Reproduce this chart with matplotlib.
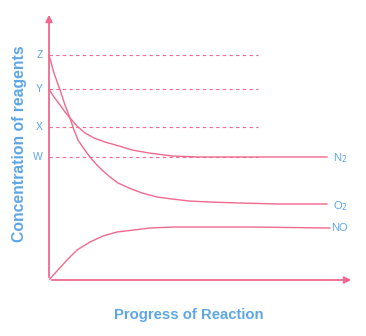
import matplotlib.pyplot as plt

plt.rcParams['font.family'] = ['Liberation Sans', 'DejaVu Sans']

pink = '#f0698f'
blue = '#5ea6e6'

# levels on the concentration axis
level_names = ['Z', 'Y', 'X', 'W']
level_values = [225, 191, 153, 123]

# curves (progress, concentration)
n2_x = [0, 5, 11, 16, 21, 28, 36, 45, 56, 70, 83, 100, 123, 150, 180, 230, 278]
n2_y = [191, 183, 175, 168, 162, 154, 147, 142, 138, 134, 130, 127, 124, 123, 123, 123, 123]
o2_x = [0, 5, 11, 16, 21, 25, 29, 35, 41, 47, 53, 61, 69, 80, 93, 108, 123, 140, 160, 190, 230, 278]
o2_y = [225, 207, 190, 175, 162, 150, 140, 131, 123, 116, 110, 103, 97, 92, 87, 83, 81, 79, 78, 77, 76, 76]
no_x = [0, 8, 18, 28, 41, 54, 68, 85, 101, 125, 151, 200, 281]
no_y = [0, 9, 20, 30, 38, 44, 48, 50, 52, 53, 53, 53, 52]

fig = plt.figure(figsize=(3.66, 3.36), dpi=100)
ax = fig.add_axes([49 / 366, 56 / 336, 305 / 366, 268 / 336])
ax.set_xlim(0, 305)
ax.set_ylim(0, 268)
ax.axis('off')

# axes with arrows
ax.annotate('', xy=(305, 0), xytext=(0, 0),
            arrowprops=dict(arrowstyle='-|>', color=pink, lw=1.3, mutation_scale=10))
ax.annotate('', xy=(0, 268), xytext=(0, 0),
            arrowprops=dict(arrowstyle='-|>', color=pink, lw=1.3, mutation_scale=10))

for name, v in zip(level_names, level_values):
    ax.plot([0, 209], [v, v], ls=(0, (3, 3)), color=pink, lw=0.8)
    ax.text(-6, v, name, color=blue, fontsize=7.5, ha='right', va='center')

ax.plot(n2_x, n2_y, color=pink, lw=1)
ax.plot(o2_x, o2_y, color=pink, lw=1)
ax.plot(no_x, no_y, color=pink, lw=1)

ax.text(284, 122, 'N$_2$', color=blue, fontsize=8, ha='left', va='center')
ax.text(284, 74, 'O$_2$', color=blue, fontsize=8, ha='left', va='center')
ax.text(282, 52, 'NO', color=blue, fontsize=8, ha='left', va='center')

fig.text(20 / 366, 1 - 144 / 336, 'Concentration of reagents', rotation=90,
         color=blue, fontsize=11.3, fontweight='bold', ha='center', va='center')
fig.text(189 / 366, 1 - 315 / 336, 'Progress of Reaction',
         color=blue, fontsize=10.7, fontweight='bold', ha='center', va='center')

fig.savefig('out.png', dpi=100)
